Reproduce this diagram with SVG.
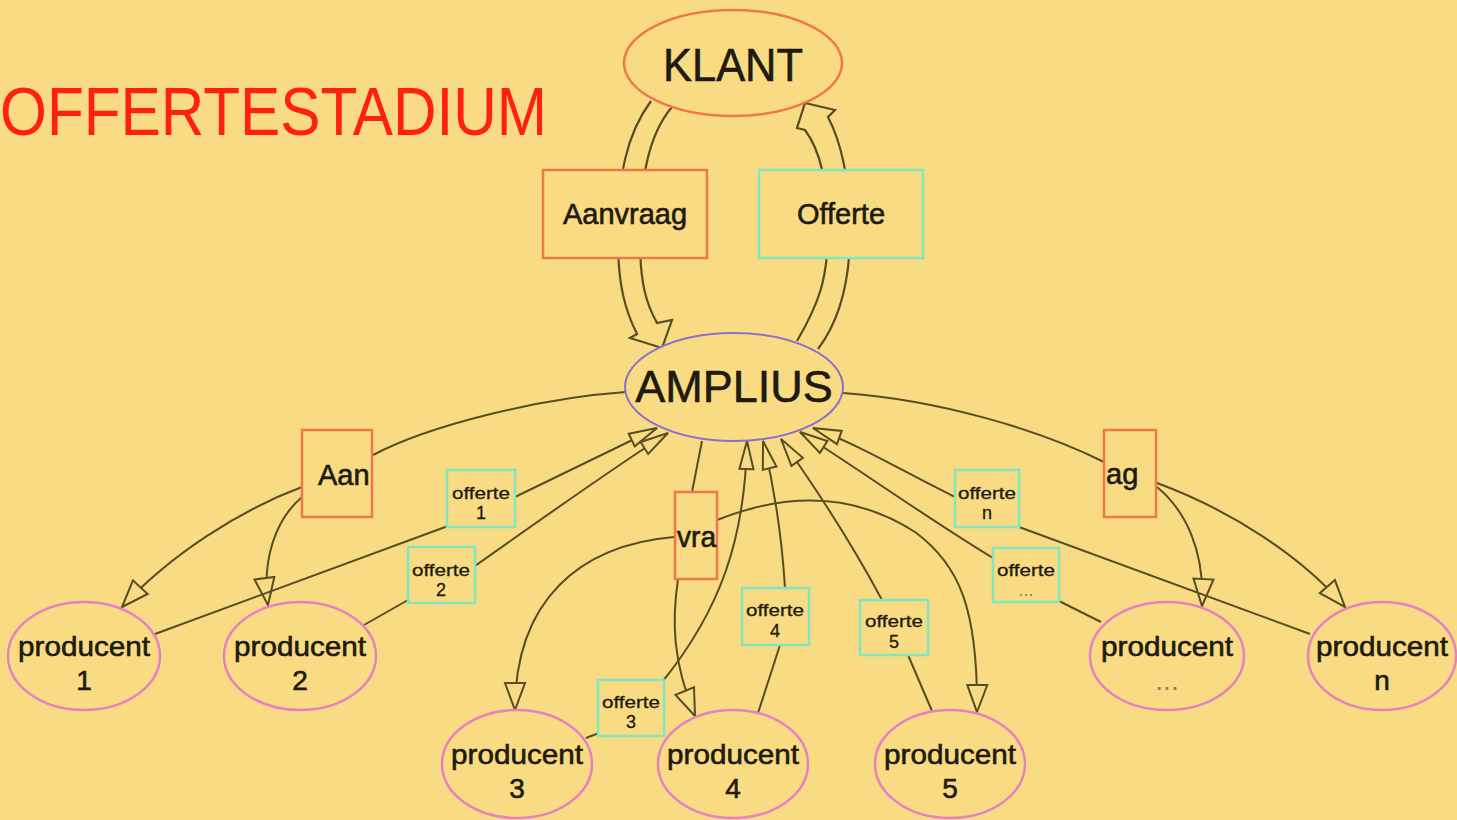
<svg xmlns="http://www.w3.org/2000/svg" width="1457" height="820" viewBox="0 0 1457 820">
<defs>
<style>
.edge{fill:none;stroke:#564E22;stroke-width:2}
.wide{fill:none;stroke:#564E22;stroke-width:2.2;stroke-linejoin:miter}
.org{fill:#F9DB83;stroke:#F07848;stroke-width:2.5}
.grn{fill:#F9DB83;stroke:#84E6BE;stroke-width:2.5}
.pnk{fill:#F9DB83;stroke:#E880C0;stroke-width:2.5}
.prp{fill:#F9DB83;stroke:#8C70CC;stroke-width:2}
.t{font-family:"Liberation Sans",Arial,sans-serif;fill:#201A10;stroke:#201A10;stroke-width:0.6}
.big{font-size:46px;text-anchor:middle}
.lbl{font-size:29px}
.prod{font-size:28px;text-anchor:middle}
.off{font-size:17px;text-anchor:middle;stroke-width:0.3}
.num{font-size:18px;text-anchor:middle;stroke-width:0.3}
.dots{fill:#8C8060;stroke:none}
.ah{fill:#F9DB83;stroke:#564E22;stroke-width:2;stroke-linejoin:miter}
</style>
<marker id="arr" viewBox="-30 -13 32 26" refX="0" refY="0" markerWidth="32" markerHeight="26" markerUnits="userSpaceOnUse" orient="auto" overflow="visible">
<path class="ah" d="M0,0 L-27,-10 L-27,10 Z"/>
</marker>
<marker id="arrs" viewBox="-30 -13 32 26" refX="0" refY="0" markerWidth="32" markerHeight="26" markerUnits="userSpaceOnUse" orient="auto" overflow="visible">
<path class="ah" d="M0,0 L-28,-7 L-28,7 Z"/>
</marker>
</defs>
<rect x="0" y="0" width="1457" height="820" fill="#F9DB83"/>
<text id="title" x="0" y="135" font-family="Liberation Sans, Arial, sans-serif" font-size="68" fill="#FF2010" textLength="547" lengthAdjust="spacingAndGlyphs">OFFERTESTADIUM</text>

<g id="connectors">
<path class="wide" d="M651,101 C626,135 618,175 618,240 C618,285 625,310 637,334 L630,338 L662,348 L672,320 L657,323 C647,305 640,285 640,240 C640,180 648,135 672,107"/>
<path class="wide" d="M797,341 C818,305 828,280 828,230 C828,185 820,150 805,130 L797,128 L805,103 L835,110 L828,117 C840,140 849,175 850,225 C851,280 840,320 818,349"/>
<path class="edge" d="M626,392 C540,398 430,425 373,455"/>
<path class="edge" marker-end="url(#arr)" d="M302,487 C240,510 170,555 122,607"/>
<path class="edge" marker-end="url(#arr)" d="M302,497 C275,520 262,560 268,605"/>
<path class="edge" d="M702,441 L692,492"/>
<path class="edge" marker-end="url(#arr)" d="M678,579 C672,620 672,660 695,716"/>
<path class="edge" marker-end="url(#arr)" d="M674,537 C580,545 515,600 515,710"/>
<path class="edge" marker-end="url(#arr)" d="M717,520 C780,495 850,490 915,532 C960,565 978,610 977,712"/>
<path class="edge" d="M843,393 C940,400 1040,430 1104,462"/>
<path class="edge" marker-end="url(#arr)" d="M1157,487 C1185,510 1205,550 1202,606"/>
<path class="edge" marker-end="url(#arr)" d="M1157,483 C1230,510 1300,555 1345,607"/>
<path class="edge" d="M155,634 L448,526"/>
<path class="edge" marker-end="url(#arrs)" d="M515,497 C570,470 615,448 657,428"/>
<path class="edge" d="M364,625 L408,600"/>
<path class="edge" marker-end="url(#arrs)" d="M475,566 C540,520 610,470 668,433"/>
<path class="edge" d="M586,738 L599,733"/>
<path class="edge" marker-end="url(#arrs)" d="M663,681 C720,610 745,540 747,441"/>
<path class="edge" d="M758,713 L780,645"/>
<path class="edge" marker-end="url(#arrs)" d="M785,588 C782,540 775,490 763,441"/>
<path class="edge" d="M932,711 L908,655"/>
<path class="edge" marker-end="url(#arrs)" d="M882,600 C850,540 810,480 781,439"/>
<path class="edge" d="M1101,622 L1059,601"/>
<path class="edge" marker-end="url(#arrs)" d="M993,558 C930,520 860,470 800,432"/>
<path class="edge" d="M1310,634 L1019,527"/>
<path class="edge" marker-end="url(#arrs)" d="M955,497 C900,470 860,445 813,428"/>
</g>

<g id="klant"><ellipse class="org" cx="733" cy="63" rx="109" ry="53" stroke-width="2.2"/><text class="t big" x="733" y="81" textLength="140" lengthAdjust="spacingAndGlyphs">KLANT</text></g>
<g id="aanvraag"><rect class="org" x="543" y="170" width="164" height="88"/><text class="t lbl" x="625" y="224" text-anchor="middle">Aanvraag</text></g>
<g id="offerte"><rect class="grn" x="759" y="170" width="164" height="88"/><text class="t lbl" x="841" y="224" text-anchor="middle">Offerte</text></g>
<g id="amplius"><ellipse class="prp" cx="734" cy="387" rx="109" ry="54"/><text class="t" x="734" y="402" font-size="45" text-anchor="middle">AMPLIUS</text></g>

<g id="aan"><rect class="org" x="302" y="430" width="70" height="87"/><text class="t lbl" x="318" y="485">Aan</text></g>
<g id="vra"><rect class="org" x="675" y="492" width="42" height="87"/><text class="t lbl" x="677" y="547" textLength="39" lengthAdjust="spacingAndGlyphs">vra</text></g>
<g id="ag"><rect class="org" x="1104" y="430" width="52" height="87"/><text class="t lbl" x="1106" y="484">ag</text></g>

<g id="offerte1"><rect class="grn" x="447" y="470" width="68" height="57"/><text class="t off" x="481" y="499" textLength="58" lengthAdjust="spacingAndGlyphs">offerte</text><text class="t num" x="481" y="519">1</text></g>
<g id="offerte2"><rect class="grn" x="408" y="547" width="67" height="56"/><text class="t off" x="441" y="576" textLength="58" lengthAdjust="spacingAndGlyphs">offerte</text><text class="t num" x="441" y="596">2</text></g>
<g id="offerte3"><rect class="grn" x="598" y="680" width="66" height="56"/><text class="t off" x="631" y="708" textLength="58" lengthAdjust="spacingAndGlyphs">offerte</text><text class="t num" x="631" y="728">3</text></g>
<g id="offerte4"><rect class="grn" x="742" y="588" width="67" height="57"/><text class="t off" x="775" y="616" textLength="58" lengthAdjust="spacingAndGlyphs">offerte</text><text class="t num" x="775" y="637">4</text></g>
<g id="offerte5"><rect class="grn" x="860" y="600" width="68" height="55"/><text class="t off" x="894" y="627" textLength="58" lengthAdjust="spacingAndGlyphs">offerte</text><text class="t num" x="894" y="648">5</text></g>
<g id="offerteDots"><rect class="grn" x="993" y="548" width="66" height="54"/><text class="t off" x="1026" y="576" textLength="58" lengthAdjust="spacingAndGlyphs">offerte</text><text class="t num dots" x="1026" y="596">...</text></g>
<g id="offerteN"><rect class="grn" x="955" y="470" width="64" height="57"/><text class="t off" x="987" y="499" textLength="58" lengthAdjust="spacingAndGlyphs">offerte</text><text class="t num" x="987" y="519">n</text></g>

<g id="producent1"><ellipse class="pnk" cx="84" cy="656" rx="76" ry="54"/><text class="t prod" x="84" y="656" textLength="132" lengthAdjust="spacingAndGlyphs">producent</text><text class="t prod" x="84" y="690">1</text></g>
<g id="producent2"><ellipse class="pnk" cx="300" cy="656" rx="76" ry="54"/><text class="t prod" x="300" y="656" textLength="132" lengthAdjust="spacingAndGlyphs">producent</text><text class="t prod" x="300" y="690">2</text></g>
<g id="producent3"><ellipse class="pnk" cx="517" cy="764" rx="75" ry="54"/><text class="t prod" x="517" y="764" textLength="132" lengthAdjust="spacingAndGlyphs">producent</text><text class="t prod" x="517" y="798">3</text></g>
<g id="producent4"><ellipse class="pnk" cx="733" cy="764" rx="75" ry="54"/><text class="t prod" x="733" y="764" textLength="132" lengthAdjust="spacingAndGlyphs">producent</text><text class="t prod" x="733" y="798">4</text></g>
<g id="producent5"><ellipse class="pnk" cx="950" cy="764" rx="75" ry="54"/><text class="t prod" x="950" y="764" textLength="132" lengthAdjust="spacingAndGlyphs">producent</text><text class="t prod" x="950" y="798">5</text></g>
<g id="producentDots"><ellipse class="pnk" cx="1167" cy="656" rx="77" ry="54"/><text class="t prod" x="1167" y="656" textLength="132" lengthAdjust="spacingAndGlyphs">producent</text><text class="t prod dots" x="1167" y="690" font-size="22">...</text></g>
<g id="producentN"><ellipse class="pnk" cx="1382" cy="656" rx="74" ry="54"/><text class="t prod" x="1382" y="656" textLength="132" lengthAdjust="spacingAndGlyphs">producent</text><text class="t prod" x="1382" y="690">n</text></g>
</svg>
